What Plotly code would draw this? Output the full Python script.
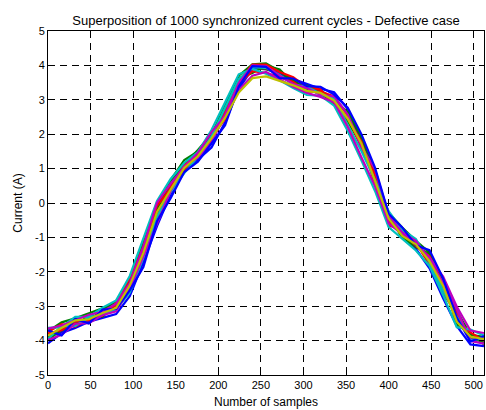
import plotly.graph_objects as go

samples = [0, 16, 32, 48, 64, 80, 96, 112, 128, 144, 160, 176, 192, 208, 224, 240,
           256, 272, 288, 304, 320, 336, 352, 368, 384, 400, 416, 432, 448, 464, 480, 496, 512]

cycle_1 = [-4.08, -3.78, -3.63, -3.45, -3.34, -3.23, -2.71, -1.72, -0.67, 0.25, 0.95, 1.26, 1.61, 2.35, 3.32, 3.90,
           4.03, 3.79, 3.60, 3.46, 3.32, 3.22, 2.73, 1.86, 0.85, -0.41, -0.93, -1.33, -1.90, -2.77, -3.57, -4.11, -4.16]
cycle_2 = [-3.73, -3.47, -3.35, -3.20, -3.06, -2.88, -2.22, -1.09, -0.13, 0.67, 1.25, 1.50, 1.97, 2.84, 3.70, 4.03,
           4.06, 3.83, 3.56, 3.32, 3.16, 2.90, 2.37, 1.69, 0.85, -0.28, -0.71, -1.10, -1.44, -2.28, -3.13, -3.83, -3.89]
cycle_3 = [-3.80, -3.69, -3.45, -3.41, -3.14, -2.98, -2.47, -1.36, -0.44, 0.46, 1.10, 1.42, 1.82, 2.66, 3.46, 3.83,
           3.78, 3.66, 3.52, 3.24, 3.24, 3.10, 2.53, 1.60, 0.83, -0.56, -0.83, -1.25, -1.55, -2.37, -3.41, -3.76, -4.00]
cycle_4 = [-3.95, -3.58, -3.57, -3.32, -3.24, -3.10, -2.61, -1.59, -0.40, 0.32, 0.87, 1.34, 1.94, 2.75, 3.60, 3.95,
           3.93, 3.72, 3.44, 3.38, 3.18, 3.03, 2.29, 1.51, 0.67, -0.24, -0.78, -1.05, -1.72, -2.55, -3.29, -3.98, -3.94]
cycle_5 = [-3.65, -3.56, -3.41, -3.25, -3.16, -2.93, -2.33, -1.27, 0.01, 0.56, 1.05, 1.46, 2.06, 2.53, 3.28, 3.70,
           3.81, 3.59, 3.38, 3.20, 3.08, 2.93, 2.21, 1.33, 0.49, -0.59, -0.91, -1.18, -1.58, -2.14, -3.01, -3.71, -3.78]
cycle_6 = [-3.85, -3.63, -3.41, -3.38, -3.20, -3.05, -2.40, -1.45, -0.26, 0.39, 1.02, 1.36, 1.88, 2.48, 3.21, 3.63,
           3.68, 3.55, 3.42, 3.26, 3.20, 2.98, 2.45, 1.73, 0.62, -0.45, -0.96, -1.20, -1.69, -2.41, -3.45, -3.88, -3.96]
cycle_7 = [-3.90, -3.74, -3.47, -3.40, -3.12, -2.85, -2.29, -1.32, -0.31, 0.49, 1.15, 1.44, 1.85, 2.62, 3.53, 3.93,
           3.88, 3.77, 3.54, 3.30, 3.26, 3.05, 2.61, 1.78, 0.76, -0.49, -0.88, -1.13, -1.76, -2.46, -3.25, -3.93, -4.05]
cycle_8 = [-3.70, -3.85, -3.37, -3.50, -3.10, -3.08, -2.54, -1.86, -0.53, 0.14, 0.90, 1.20, 1.73, 2.26, 3.39, 3.98,
           3.96, 3.63, 3.62, 3.40, 3.38, 3.15, 2.77, 2.00, 1.03, -0.31, -0.71, -1.23, -1.37, -2.19, -3.33, -4.03, -3.87]
cycle_9 = [-4.00, -3.65, -3.53, -3.29, -3.30, -2.95, -2.26, -1.18, -0.22, 0.63, 1.12, 1.54, 2.00, 2.71, 3.63, 3.78,
           4.00, 3.88, 3.48, 3.42, 3.28, 2.95, 2.65, 1.91, 0.94, -0.38, -1.01, -1.28, -1.48, -2.23, -3.53, -3.78, -4.11]
cycle_10 = [-3.75, -3.52, -3.59, -3.36, -3.28, -2.90, -2.19, -1.27, -0.08, 0.42, 0.97, 1.40, 1.91, 2.44, 3.56, 4.02,
            4.02, 3.81, 3.66, 3.36, 3.30, 2.85, 2.45, 1.78, 0.53, -0.66, -0.76, -1.15, -1.79, -2.64, -3.21, -3.96, -3.91]
cycle_11 = [-3.63, -3.61, -3.31, -3.31, -3.04, -2.83, -2.12, -1.05, 0.06, 0.70, 1.17, 1.48, 2.12, 2.93, 3.74, 3.90,
            3.76, 3.57, 3.34, 3.14, 3.12, 2.83, 2.09, 1.24, 0.35, -0.70, -1.03, -1.38, -1.83, -2.68, -3.61, -3.68, -3.85]
cycle_12 = [-3.98, -3.83, -3.51, -3.49, -3.26, -3.15, -2.50, -1.54, -0.58, 0.35, 1.07, 1.32, 1.76, 2.57, 3.49, 4.00,
            3.98, 3.70, 3.46, 3.34, 3.14, 3.10, 2.57, 1.64, 0.98, -0.35, -0.86, -1.10, -1.65, -2.32, -3.09, -4.01, -4.09]

cycles = [cycle_7, cycle_1, cycle_9, cycle_2, cycle_3, cycle_10, cycle_4, cycle_11,
          cycle_5, cycle_12, cycle_8, cycle_6]
colors = ["rgb(64,64,64)", "rgb(0,0,255)", "rgb(0,128,0)", "rgb(0,128,0)", "rgb(255,0,0)", "rgb(255,0,0)",
          "rgb(0,191,191)", "rgb(0,191,191)", "rgb(191,0,191)", "rgb(191,0,191)", "rgb(0,0,255)", "rgb(191,191,0)"]

x_ticks = [0, 50, 100, 150, 200, 250, 300, 350, 400, 450, 500]
y_ticks = [-5, -4, -3, -2, -1, 0, 1, 2, 3, 4, 5]

fig = go.Figure()
for vals, col in zip(cycles, colors):
    fig.add_trace(go.Scatter(x=samples, y=vals, mode="lines",
                             line=dict(color=col, width=2.2), showlegend=False, hoverinfo="skip"))

family = "Liberation Sans, Arial, sans-serif"
font = dict(family=family, size=11, color="black")
label_font = dict(family=family, size=12, color="black")
axis_common = dict(showline=True, linecolor="black", linewidth=1, mirror="ticks",
                   ticks="inside", ticklen=5, tickcolor="black", tickwidth=1,
                   showgrid=True, gridcolor="black", gridwidth=1, griddash="7px,5px",
                   zeroline=False, tickfont=font, automargin=False)

fig.update_layout(
    width=486, height=410,
    margin=dict(l=48, r=2, t=31, b=35),
    paper_bgcolor="white", plot_bgcolor="white",
    font=font,
    title=dict(text="Superposition of 1000 synchronized current cycles - Defective case",
               x=0.5, xref="paper", xanchor="center", y=1 - 20 / 410, yref="container",
               yanchor="middle", font=dict(family=family, size=13, color="black")),
    xaxis=dict(range=[0, 512], tickvals=x_ticks, ticktext=[str(v) for v in x_ticks],
               title=dict(text="Number of samples", standoff=7, font=label_font), **axis_common),
    yaxis=dict(range=[-5, 5], tickvals=y_ticks, ticktext=[str(v) for v in y_ticks],
               title=dict(text="Current (A)", standoff=9, font=label_font), **axis_common),
)

fig.write_html("out.html", config={"displayModeBar": False},
               post_script="document.body.style.margin='0';")
